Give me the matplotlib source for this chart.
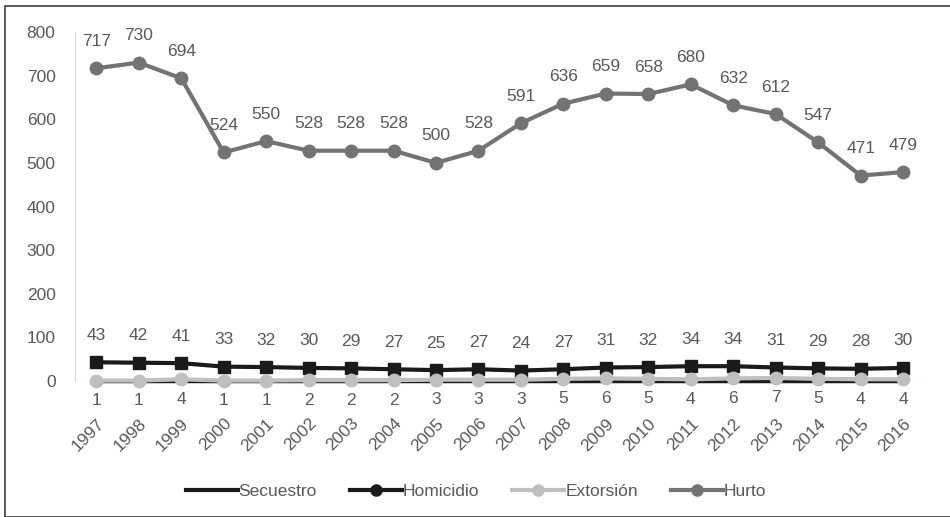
import numpy as np
import matplotlib.pyplot as plt
from matplotlib.lines import Line2D
import matplotlib.patches as patches

plt.rcParams['font.family'] = ['Liberation Sans Narrow', 'Liberation Sans', 'DejaVu Sans']

years = [str(y) for y in range(1997, 2017)]
hurto = [717, 730, 694, 524, 550, 528, 528, 528, 500, 528, 591, 636, 659, 658, 680, 632, 612, 547, 471, 479]
homicidio = [43, 42, 41, 33, 32, 30, 29, 27, 25, 27, 24, 27, 31, 32, 34, 34, 31, 29, 28, 30]
extorsion = [1, 1, 4, 1, 1, 2, 2, 2, 3, 3, 3, 5, 6, 5, 4, 6, 7, 5, 4, 4]
secuestro = [0] * 20

text_color = '#595959'
c_sec = '#1a1a1a'
c_hom = '#1a1a1a'
c_ext = '#bfbfbf'
c_hur = '#737373'

fig = plt.figure(figsize=(9.5, 5.17), dpi=100)
ax = fig.add_axes([0.079, 0.263, 0.894, 0.675])

x = np.arange(len(years))
ax.plot(x, secuestro, color=c_sec, lw=2.5, zorder=2, clip_on=False)
ax.plot(x, homicidio, color=c_hom, lw=3, marker='s', ms=9, zorder=3, clip_on=False)
ax.plot(x, extorsion, color=c_ext, lw=3, marker='o', ms=9, zorder=4, clip_on=False)
ax.plot(x, hurto, color=c_hur, lw=3, marker='o', ms=9, zorder=3, clip_on=False)

fs = 12.5
for i in x:
    ax.annotate(str(hurto[i]), (i, hurto[i]), xytext=(0, 14), textcoords='offset points',
                ha='center', va='bottom', fontsize=fs, color=text_color)
    ax.annotate(str(homicidio[i]), (i, homicidio[i]), xytext=(0, 14), textcoords='offset points',
                ha='center', va='bottom', fontsize=fs, color=text_color)
    ax.annotate(str(extorsion[i]), (i, extorsion[i]), xytext=(0, -9), textcoords='offset points',
                ha='center', va='top', fontsize=fs, color=text_color)

ax.set_xlim(-0.5, len(years) - 0.5)
ax.set_ylim(0, 800)
ax.set_yticks(range(0, 801, 100))
ax.set_xticks(x)
ax.set_xticklabels(years, rotation=45, ha='right', rotation_mode='anchor')
ax.tick_params(axis='both', length=0, labelsize=fs, colors=text_color)
ax.tick_params(axis='x', pad=25)
ax.tick_params(axis='y', pad=14)
for side in ['top', 'right', 'bottom']:
    ax.spines[side].set_visible(False)
ax.spines['left'].set_color('#d9d9d9')
ax.spines['left'].set_zorder(1)
ax.axhline(0, color='#d9d9d9', lw=1, zorder=1)

handles = [
    Line2D([], [], color=c_sec, lw=3),
    Line2D([], [], color=c_hom, lw=3, marker='o', ms=8),
    Line2D([], [], color=c_ext, lw=3, marker='o', ms=8),
    Line2D([], [], color=c_hur, lw=3, marker='o', ms=8),
]
leg = fig.legend(handles, ['Secuestro', 'Homicidio', 'Extorsión', 'Hurto'],
                 loc='center', bbox_to_anchor=(0.501, 0.05), ncol=4, frameon=False,
                 fontsize=fs, handlelength=3.0, handletextpad=0.05, columnspacing=1.9)
for t in leg.get_texts():
    t.set_color(text_color)

# outer frame
fig.patches.append(patches.Rectangle((5 / 950, 0.5 / 517), 2, 511 / 517, transform=fig.transFigure,
                                     fill=False, ec='#404040', lw=1.2))

fig.savefig('out.png', dpi=100)
